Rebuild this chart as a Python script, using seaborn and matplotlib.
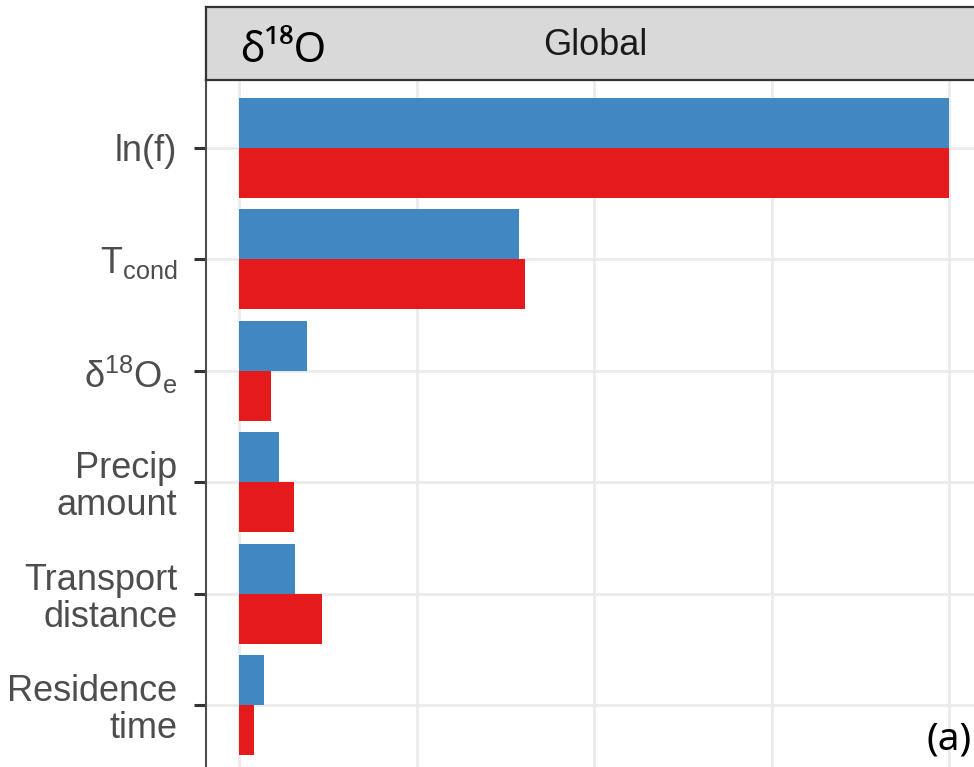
import matplotlib
matplotlib.use("Agg")
import matplotlib.pyplot as plt
import numpy as np
import pandas as pd
import seaborn as sns

# Predictor labels (top to bottom) and relative importance for the two cases
predictors = [
    "ln(f)",
    r"$\mathregular{T_{cond}}$",
    r"$\mathregular{δ^{18}O_e}$",
    "Precip\namount",
    "Transport\ndistance",
    "Residence\ntime",
]
case_a = [1.0, 0.394, 0.095, 0.056, 0.079, 0.035]
case_b = [1.0, 0.402, 0.044, 0.077, 0.116, 0.020]
groups = ["Case A", "Case B"]
colors = ["#4188C3", "#E41A1C"]
x_ticks = [0.0, 0.25, 0.5, 0.75, 1.0]

df = pd.DataFrame({
    "predictor": predictors * 2,
    "importance": case_a + case_b,
    "group": [groups[0]] * len(predictors) + [groups[1]] * len(predictors),
})

sns.set_theme(style="white")
plt.rcParams["font.family"] = ["Liberation Sans", "DejaVu Sans"]
plt.rcParams["mathtext.fontset"] = "custom"
plt.rcParams["mathtext.rm"] = "Liberation Sans"
plt.rcParams["mathtext.it"] = "Liberation Sans:italic"
plt.rcParams["mathtext.bf"] = "Liberation Sans:bold"

W, H = 974, 767
fig = plt.figure(figsize=(W / 100, H / 100), dpi=100)

# main panel (extends slightly past the lower and right edges)
left_px, top_px, right_px, bottom_px = 206, 81, 985, 772
ax = fig.add_axes([left_px / W, 1 - bottom_px / H,
                   (right_px - left_px) / W, (bottom_px - top_px) / H])

sns.barplot(data=df, y="predictor", x="importance", hue="group",
            order=predictors, hue_order=groups, palette=colors,
            width=0.9, saturation=1, linewidth=0, legend=False,
            orient="h", ax=ax)

ax.set_xlim(-0.047, 1.05)
ax.set_ylim(len(predictors) - 0.4, -0.6)
ax.set_xticks(x_ticks)
ax.grid(True, color="#EBEBEB", lw=2)
ax.set_axisbelow(True)
ax.set_xlabel("")
ax.set_ylabel("")
ax.tick_params(axis="x", bottom=False, labelbottom=False)
ax.tick_params(axis="y", left=True, length=8.6, width=2.2, color="#333333",
               pad=12, labelsize=26, labelcolor="#4D4D4D")
for lbl in ax.get_yticklabels():
    lbl.set_linespacing(1.08)
    lbl.set_multialignment("right")
for side in ["top", "right", "bottom"]:
    ax.spines[side].set_visible(False)
ax.spines["left"].set_color("#4D4D4D")
ax.spines["left"].set_linewidth(1.5)

# facet strip
sax = fig.add_axes([left_px / W, 1 - 80 / H, (right_px - left_px) / W, 73 / H])
sax.set_facecolor("#D9D9D9")
sax.set_xticks([])
sax.set_yticks([])
for sp in sax.spines.values():
    sp.set_color("#333333")
    sp.set_linewidth(1.6)
sax.text(0.5, 0.47, "Global", ha="center", va="center", fontsize=26,
         color="#1A1A1A", transform=sax.transAxes)

fig.text(240 / W, 1 - 62.5 / H, "δ¹⁸O", family=["Noto Sans", "DejaVu Sans"],
         fontsize=30, color="black", ha="left", va="baseline")
fig.text(926 / W, 1 - 750 / H, "(a)", family=["Noto Sans", "DejaVu Sans"],
         fontsize=28, color="black", ha="left", va="baseline")

fig.savefig("out.png", dpi=100)
